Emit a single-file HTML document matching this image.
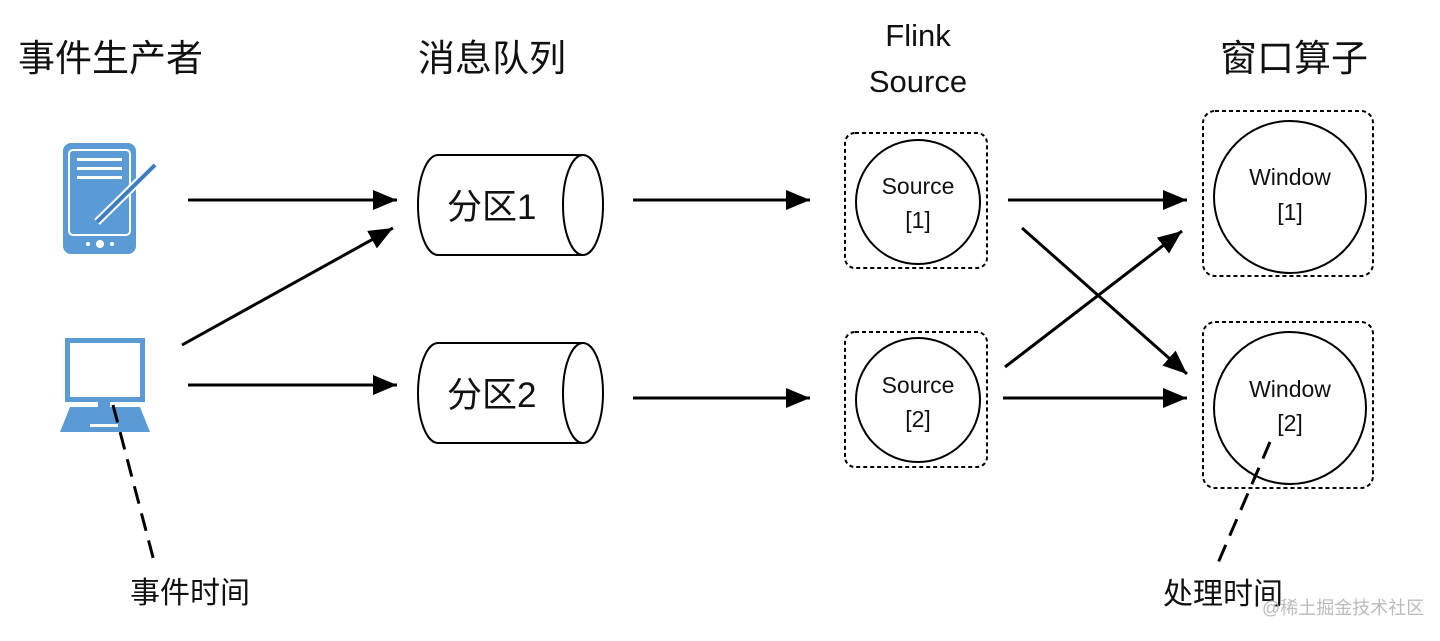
<!DOCTYPE html>
<html><head><meta charset="utf-8"><style>
body{margin:0;background:#fff;width:1440px;height:636px;overflow:hidden}
svg text{font-family:"Liberation Sans","Noto Sans CJK SC",sans-serif;fill:#111}
</style></head><body>
<svg width="1440" height="636" viewBox="0 0 1440 636" xmlns="http://www.w3.org/2000/svg">
<defs>
<marker id="b" markerWidth="24" markerHeight="20" refX="24" refY="10" orient="auto" markerUnits="userSpaceOnUse"><path d="M0,0 L24,10 L0,20 z" fill="#000"/></marker></defs>
<text x="18" y="71" font-size="37">事件生产者</text>
<text x="418" y="71" font-size="37">消息队列</text>
<text x="918" y="46" font-size="31" text-anchor="middle">Flink</text>
<text x="918" y="92" font-size="31" text-anchor="middle">Source</text>
<text x="1220" y="71" font-size="37">窗口算子</text>
<!-- tablet -->
<rect x="63" y="143" width="73" height="111" rx="8" fill="#5b9bd5"/>
<rect x="69" y="150" width="61" height="85" rx="4" fill="none" stroke="#fff" stroke-width="2"/>
<rect x="77" y="158" width="45" height="3" fill="#fff"/><rect x="77" y="167" width="45" height="3" fill="#fff"/><rect x="77" y="176" width="45" height="3" fill="#fff"/>
<line x1="155" y1="165" x2="97" y2="222" stroke="#fff" stroke-width="8"/>
<line x1="155" y1="165" x2="97" y2="222" stroke="#3d7cc0" stroke-width="4"/>
<circle cx="100" cy="244" r="4" fill="#fff"/><circle cx="88" cy="244" r="2" fill="#fff"/><circle cx="112" cy="244" r="2" fill="#fff"/>
<!-- monitor -->
<rect x="65" y="338" width="80" height="64" fill="#5b9bd5"/>
<rect x="70" y="343" width="70" height="54" fill="#fff"/>
<rect x="98" y="402" width="12" height="5" fill="#5b9bd5"/>
<path d="M70,407 L140,407 L150,432 L60,432 z" fill="#5b9bd5"/>
<rect x="90" y="424" width="28" height="3" fill="#fff"/>
<!-- arrows -->
<g stroke="#000" stroke-width="3" marker-end="url(#b)">
<line x1="188" y1="200" x2="397" y2="200"/>
<line x1="182" y1="345" x2="393" y2="228"/>
<line x1="188" y1="385" x2="397" y2="385"/>
<line x1="633" y1="200" x2="810" y2="200"/>
<line x1="633" y1="398" x2="810" y2="398"/>
<line x1="1008" y1="200" x2="1187" y2="200"/>
<line x1="1022" y1="228" x2="1187" y2="374"/>
<line x1="1005" y1="367" x2="1182" y2="231"/>
<line x1="1003" y1="398" x2="1187" y2="398"/>
</g>
<!-- cylinders -->
<g fill="none" stroke="#000" stroke-width="2">
<path d="M438,155 L583,155 M438,255 L583,255"/>
<path d="M438,155 A20,50 0 0 0 438,255"/>
<ellipse cx="583" cy="205" rx="20" ry="50"/>
<path d="M438,343 L583,343 M438,443 L583,443"/>
<path d="M438,343 A20,50 0 0 0 438,443"/>
<ellipse cx="583" cy="393" rx="20" ry="50"/>
</g>
<text x="447" y="219" font-size="35">分区1</text>
<text x="447" y="407" font-size="35">分区2</text>
<!-- dashed boxes -->
<g fill="none" stroke="#000" stroke-width="2" stroke-dasharray="4,3">
<rect x="845" y="133" width="142" height="135" rx="10"/>
<rect x="845" y="332" width="142" height="135" rx="10"/>
<rect x="1203" y="111" width="170" height="165" rx="12"/>
<rect x="1203" y="322" width="170" height="166" rx="12"/>
</g>
<g fill="none" stroke="#000" stroke-width="2">
<circle cx="918" cy="202" r="62"/><circle cx="918" cy="400" r="62"/>
<circle cx="1290" cy="197" r="76"/><circle cx="1290" cy="408" r="76"/>
</g>
<g font-size="23" text-anchor="middle">
<text x="918" y="194">Source</text><text x="918" y="228">[1]</text>
<text x="918" y="393">Source</text><text x="918" y="427">[2]</text>
<text x="1290" y="185">Window</text><text x="1290" y="220">[1]</text>
<text x="1290" y="397">Window</text><text x="1290" y="431">[2]</text>
</g>
<g stroke="#000" stroke-width="3" stroke-dasharray="18,10">
<line x1="113" y1="405" x2="155" y2="565"/>
<line x1="1270" y1="442" x2="1215" y2="570"/>
</g>
<text x="130" y="603" font-size="30">事件时间</text>
<text x="1163" y="604" font-size="30">处理时间</text>
<text x="1262" y="614" font-size="18" style="fill:#bbb">@稀土掘金技术社区</text>
</svg>
</body></html>
